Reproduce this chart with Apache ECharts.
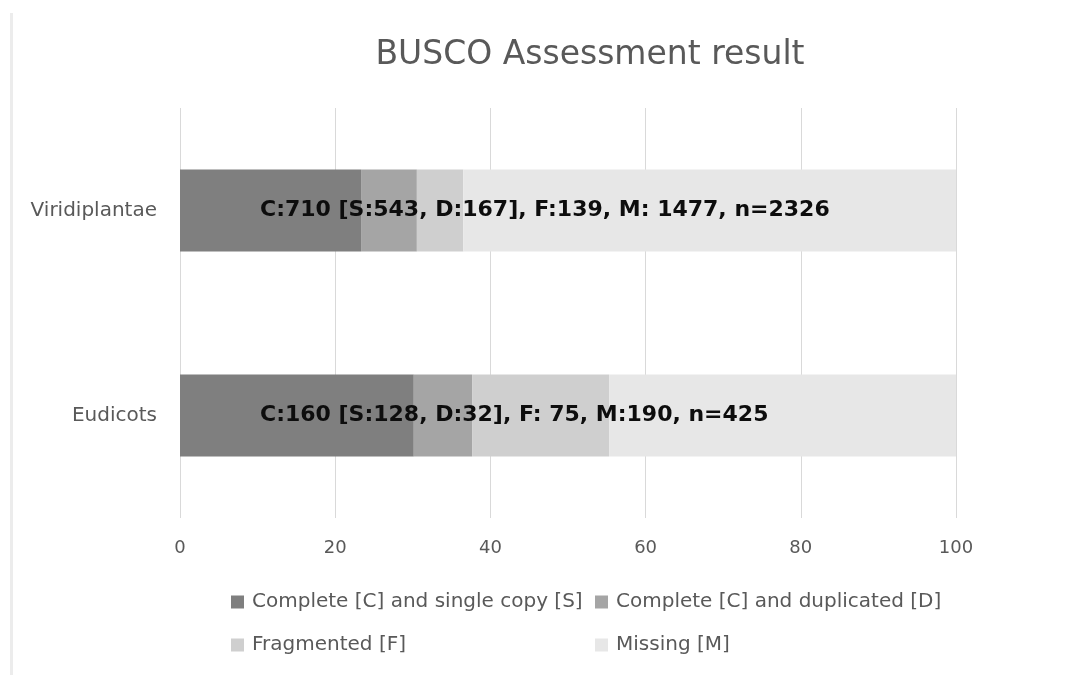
<!DOCTYPE html>
<html>
<head>
<meta charset="utf-8">
<title>BUSCO Assessment result</title>
<script src="https://cdn.jsdelivr.net/npm/echarts@6/dist/echarts.min.js"></script>
<style>
  html, body { margin: 0; padding: 0; background: #ffffff; }
  #chart { width: 1068px; height: 675px; }
</style>
</head>
<body>
<div id="chart"></div>
<script>
// BUSCO gene counts per lineage dataset (bottom to top on the category axis)
const categories = ['Eudicots', 'Viridiplantae'];
const singleCopy = [128, 543];
const duplicated = [32, 167];
const fragmented = [75, 139];
const missing = [190, 1477];
const totals = [425, 2326];
const summaryLabels = [
  'C:160 [S:128, D:32], F: 75, M:190, n=425',
  'C:710 [S:543, D:167], F:139, M: 1477, n=2326'
];
const xTicks = [0, 20, 40, 60, 80, 100];

const seriesNames = [
  'Complete [C] and single copy [S]',
  'Complete [C] and duplicated [D]',
  'Fragmented [F]',
  'Missing [M]'
];
const seriesColors = ['#7f7f7f', '#a5a5a5', '#cfcfcf', '#e7e7e7'];
const seriesCounts = [singleCopy, duplicated, fragmented, missing];

// counts -> percentage of the dataset size
const toPercent = (counts) => counts.map((c, i) => c / totals[i] * 100);

const FONT = 'DejaVu Sans';

const chart = echarts.init(document.getElementById('chart'), null, { renderer: 'canvas' });

const series = seriesNames.map((name, k) => {
  const s = {
    name: name,
    type: 'bar',
    stack: 'busco',
    barWidth: 82,
    itemStyle: { color: seriesColors[k] },
    emphasis: { disabled: true },
    data: toPercent(seriesCounts[k])
  };
  if (k === 0) {
    s.z = 3;
    s.label = {
      show: true,
      position: [80, '50%'],
      align: 'left',
      verticalAlign: 'middle',
      color: '#0d0d0d',
      fontFamily: FONT,
      fontWeight: 'bold',
      fontSize: 22,
      formatter: (p) => summaryLabels[p.dataIndex]
    };
  }
  return s;
});

const legendSlots = [
  { left: 231, top: 592 },
  { left: 595, top: 592 },
  { left: 231, top: 635 },
  { left: 595, top: 635 }
];

const option = {
  backgroundColor: '#ffffff',
  animation: false,
  title: {
    text: 'BUSCO Assessment result',
    left: 585,
    textAlign: 'center',
    top: 34,
    textStyle: { fontFamily: FONT, fontSize: 33, fontWeight: 'normal', color: '#595959' }
  },
  legend: legendSlots.map((slot, k) => ({
    data: [seriesNames[k]],
    left: slot.left,
    top: slot.top,
    padding: 0,
    icon: 'rect',
    itemWidth: 13,
    itemHeight: 13,
    itemGap: 8,
    selectedMode: false,
    textStyle: { fontFamily: FONT, fontSize: 20, color: '#595959', padding: [0, 0, 0, 3] }
  })),
  grid: { left: 180, right: 112, top: 108, bottom: 157, containLabel: false },
  xAxis: {
    type: 'value',
    min: xTicks[0],
    max: xTicks[xTicks.length - 1],
    interval: xTicks[1] - xTicks[0],
    axisLine: { show: false },
    axisTick: { show: false },
    splitLine: { show: true, lineStyle: { color: '#d9d9d9', width: 1 } },
    axisLabel: { margin: 21, color: '#595959', fontFamily: FONT, fontSize: 18 }
  },
  yAxis: {
    type: 'category',
    data: categories,
    axisLine: { show: false },
    axisTick: { show: false },
    splitLine: { show: false },
    axisLabel: { margin: 23, color: '#595959', fontFamily: FONT, fontSize: 20 }
  },
  graphic: [{
    type: 'rect',
    shape: { x: 10, y: 13, width: 3, height: 662 },
    style: { fill: '#ececec' },
    silent: true
  }],
  series: series
};

chart.setOption(option);
</script>
</body>
</html>
